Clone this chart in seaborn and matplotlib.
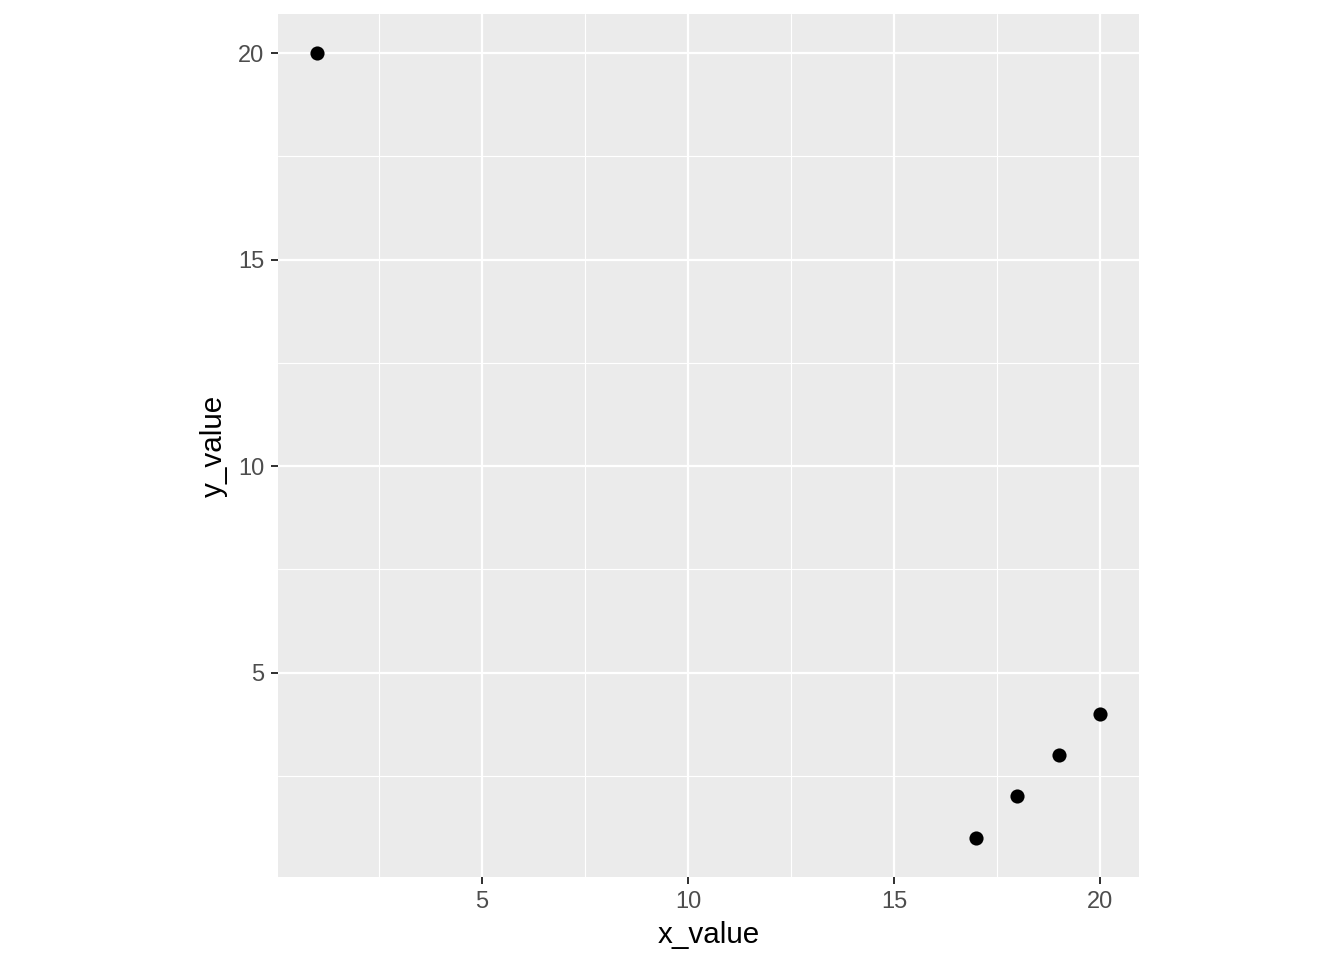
import matplotlib
matplotlib.use("Agg")
import matplotlib.pyplot as plt
import seaborn as sns
import pandas as pd
from matplotlib.ticker import MultipleLocator

# donnees
x_value = [1, 17, 18, 19, 20]
y_value = [20, 1, 2, 3, 4]
df = pd.DataFrame({"x_value": x_value, "y_value": y_value})

sns.set_theme(style="darkgrid", rc={
    "axes.facecolor": "#EBEBEB",
    "grid.color": "white",
})
plt.rcParams['font.family'] = ['Liberation Sans', 'DejaVu Sans']

fig = plt.figure(figsize=(1344 / 144, 960 / 144), dpi=144)
ax = fig.add_axes([278 / 1344, 1 - 877 / 960, 861 / 1344, 863 / 960])

sns.scatterplot(data=df, x="x_value", y="y_value", color="black", s=50,
                linewidth=0, ax=ax)

# etendue a la ggplot (5 %)
span_x = max(x_value) - min(x_value)
span_y = max(y_value) - min(y_value)
ax.set_xlim(min(x_value) - 0.05 * span_x, max(x_value) + 0.05 * span_x)
ax.set_ylim(min(y_value) - 0.05 * span_y, max(y_value) + 0.05 * span_y)

ax.xaxis.set_major_locator(MultipleLocator(5))
ax.yaxis.set_major_locator(MultipleLocator(5))
ax.xaxis.set_minor_locator(MultipleLocator(2.5))
ax.yaxis.set_minor_locator(MultipleLocator(2.5))
ax.grid(which="major", color="white", linewidth=1.1)
ax.grid(which="minor", color="white", linewidth=0.55)
ax.set_axisbelow(True)

for s in ax.spines.values():
    s.set_visible(False)

ax.tick_params(which="major", length=3.5, width=1.0, color="#333333",
               labelsize=11.8, labelcolor="#4D4D4D", pad=3.5,
               bottom=True, left=True)
ax.tick_params(which="minor", length=0)

ax.set_xlabel("x_value", fontsize=14.8, color="black", labelpad=4)
ax.set_ylabel("y_value", fontsize=14.8, color="black", labelpad=5)

fig.savefig("out.png", dpi=144, facecolor="white")
